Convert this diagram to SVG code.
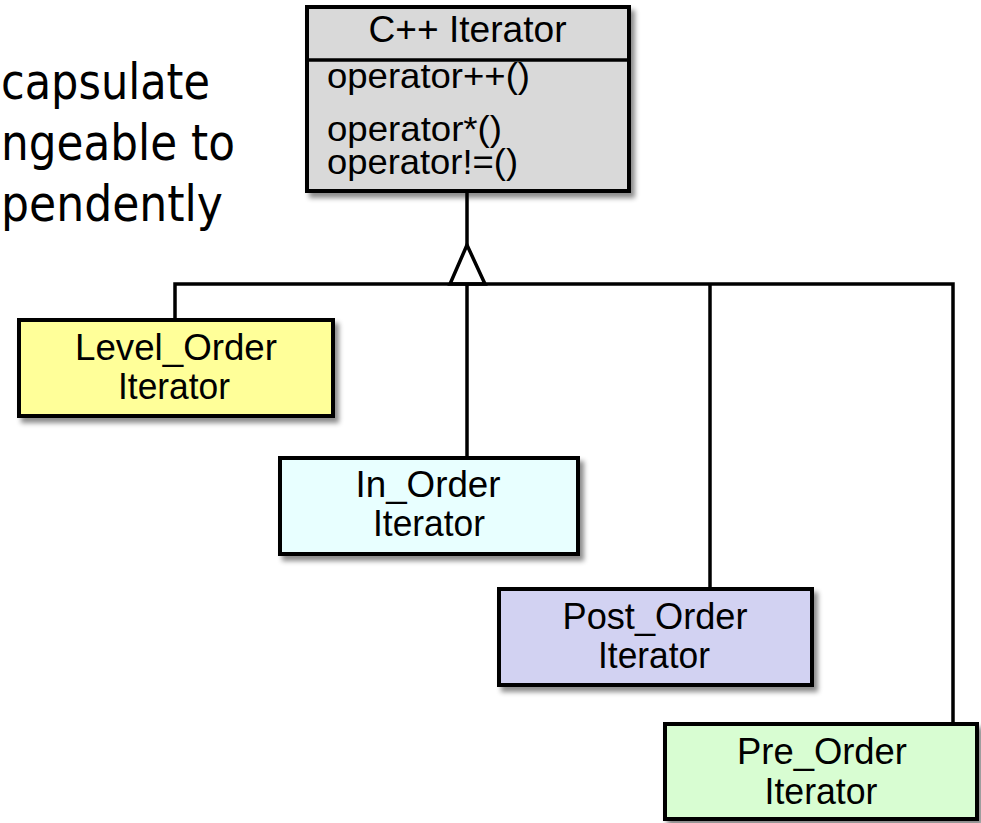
<svg xmlns="http://www.w3.org/2000/svg" width="981" height="823" viewBox="0 0 981 823">
<style>
.box{stroke:#000;stroke-width:4;filter:url(#sh)}
.lbl{font-family:"Liberation Sans",Arial,sans-serif;font-size:37px;fill:#000}
.op{font-size:35px}
.mid{text-anchor:middle}
.con{stroke:#000;stroke-width:3.5;fill:none}
.side{font-family:"DejaVu Sans",Verdana,sans-serif;font-size:50px;fill:#000}
</style>
<defs>
<filter id="sh" x="-10%" y="-10%" width="130%" height="140%">
<feDropShadow dx="4" dy="5" stdDeviation="2.5" flood-color="#000" flood-opacity="0.45"/>
</filter>
</defs>
<rect width="981" height="823" fill="#fff"/>
<g id="side-text">
<text class="side" x="1" y="99" textLength="209" lengthAdjust="spacingAndGlyphs">capsulate</text>
<text class="side" x="1" y="160" textLength="234" lengthAdjust="spacingAndGlyphs">ngeable to</text>
<text class="side" x="1" y="221" textLength="222" lengthAdjust="spacingAndGlyphs">pendently</text>
</g>
<g id="connectors">
<line class="con" x1="467" y1="192" x2="467" y2="245"/>
<polyline class="con" points="175,319 175,284 953,284 953,723"/>
<line class="con" x1="467" y1="284" x2="467" y2="457"/>
<line class="con" x1="710" y1="284" x2="710" y2="588"/>
<polygon class="con" points="467,245 450,284 485,284" fill="#fff" stroke-linejoin="miter"/>
</g>
<g id="cpp-iterator">
<rect class="box" x="307" y="7" width="322" height="184" fill="#d9d9d9"/>
<line x1="307" y1="60" x2="629" y2="60" stroke="#000" stroke-width="3.5"/>
<text class="lbl mid" x="467.5" y="42" textLength="198" lengthAdjust="spacingAndGlyphs">C++ Iterator</text>
<text class="lbl op" x="327" y="88" textLength="203" lengthAdjust="spacingAndGlyphs">operator++()</text>
<text class="lbl op" x="327" y="141" textLength="175" lengthAdjust="spacingAndGlyphs">operator*()</text>
<text class="lbl op" x="327" y="174" textLength="191" lengthAdjust="spacingAndGlyphs">operator!=()</text>
</g>
<g id="level-order">
<rect class="box" x="19" y="320" width="314" height="96" fill="#ffff99"/>
<text class="lbl mid" x="176" y="360" textLength="202" lengthAdjust="spacingAndGlyphs">Level_Order</text>
<text class="lbl mid" x="174" y="399" textLength="112" lengthAdjust="spacingAndGlyphs">Iterator</text>
</g>
<g id="in-order">
<rect class="box" x="280" y="458" width="298" height="96" fill="#e8ffff"/>
<text class="lbl mid" x="428" y="497" textLength="145" lengthAdjust="spacingAndGlyphs">In_Order</text>
<text class="lbl mid" x="429" y="536" textLength="112" lengthAdjust="spacingAndGlyphs">Iterator</text>
</g>
<g id="post-order">
<rect class="box" x="499" y="589" width="313" height="96" fill="#d2d2f2"/>
<text class="lbl mid" x="655" y="629" textLength="185" lengthAdjust="spacingAndGlyphs">Post_Order</text>
<text class="lbl mid" x="654" y="668" textLength="112" lengthAdjust="spacingAndGlyphs">Iterator</text>
</g>
<g id="pre-order">
<rect class="box" x="665" y="724" width="312" height="95" fill="#d8fdd2"/>
<text class="lbl mid" x="822" y="764" textLength="170" lengthAdjust="spacingAndGlyphs">Pre_Order</text>
<text class="lbl mid" x="821" y="804" textLength="113" lengthAdjust="spacingAndGlyphs">Iterator</text>
</g>
</svg>
